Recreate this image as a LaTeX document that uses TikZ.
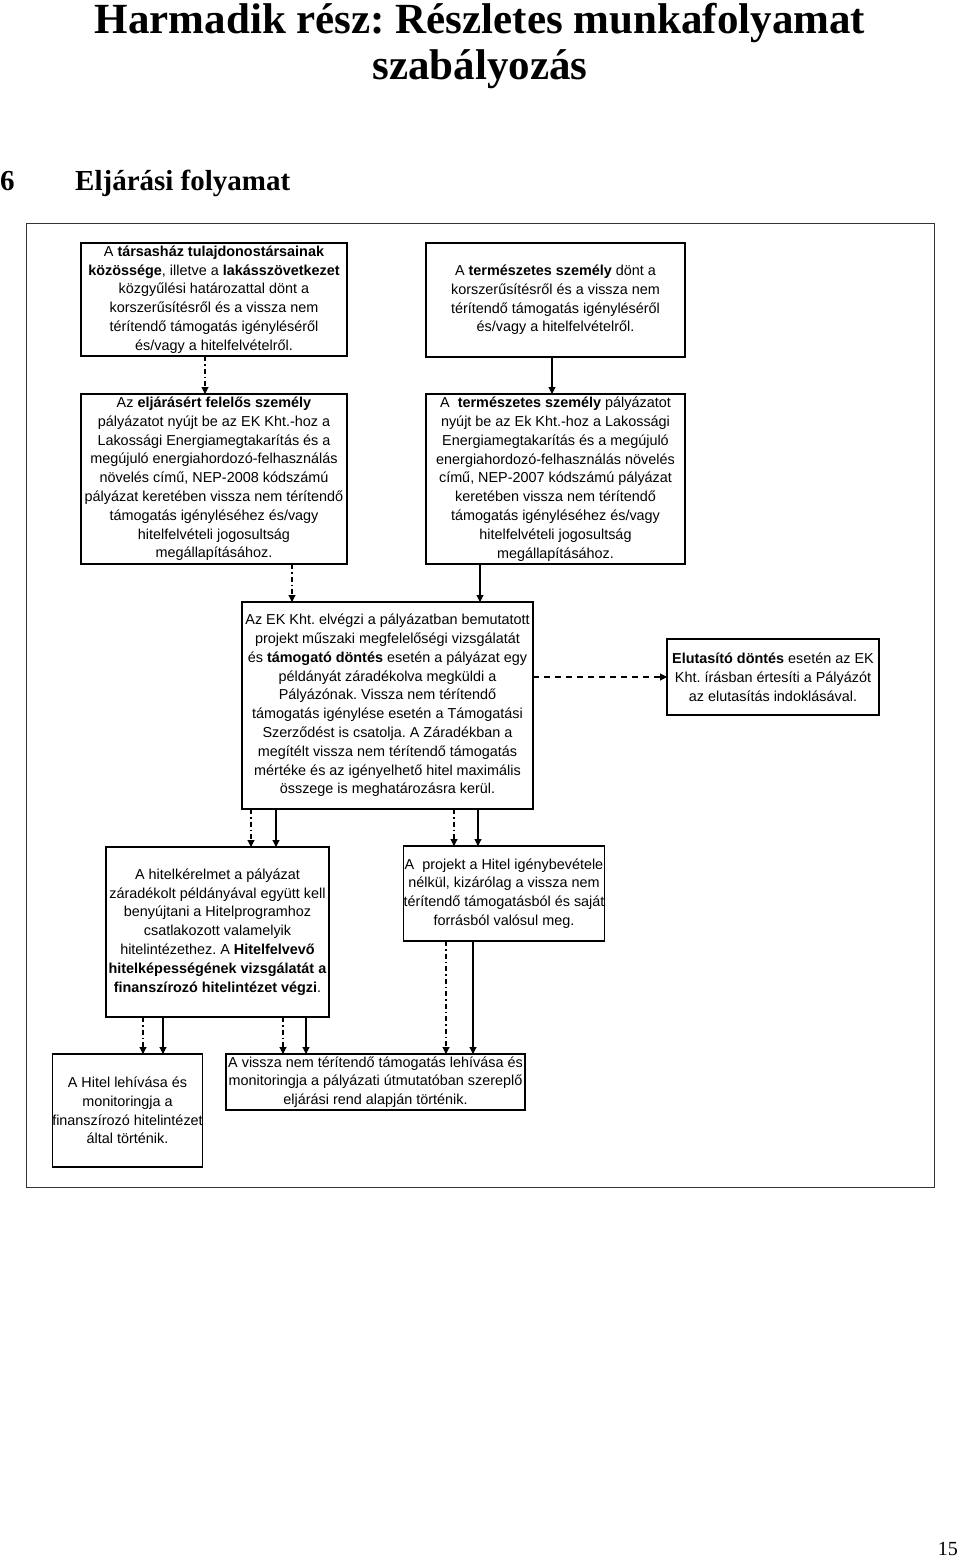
\documentclass[tikz,border=0pt]{standalone}
\usepackage{fontspec}
\usetikzlibrary{arrows.meta}
\newfontfamily\boxfont{Liberation Sans}
\newfontfamily\titlefont{Liberation Serif}
\frenchspacing
\begin{document}
\begin{tikzpicture}[x=1pt,y=-1pt,
  box/.style={draw, line width=1.2pt, inner sep=0pt, outer sep=0pt, align=center,
    font=\boxfont\fontsize{14.4}{18.8}\selectfont},
  conn/.style={line width=1.1pt, -{Triangle[width=7pt,length=7pt]}},
  solidc/.style={conn},
  dashdotc/.style={conn, dash pattern=on 5pt off 3pt on 1.5pt off 3pt},
  dashc/.style={conn, dash pattern=on 6pt off 5pt},
  ttl/.style={font=\titlefont\bfseries\fontsize{43}{46}\selectfont, anchor=base, inner sep=0pt},
  sect/.style={font=\titlefont\bfseries\fontsize{29}{32}\selectfont, anchor=base west, inner sep=0pt}
]
\useasboundingbox (0,0) rectangle (960,1557);
\fill[white] (0,0) rectangle (960,1557);

% headings
\node[ttl] (t1) at (480,34) {Harmadik rész: Részletes munkafolyamat};
\node[ttl] (t2) at (480,80) {szabályozás};
\node[sect] (s1) at (0,190) {6};
\node[sect] (s2) at (75,190) {Eljárási folyamat};
\node[font=\titlefont\fontsize{20}{22}\selectfont, anchor=base east, inner sep=0pt] (pg) at (958,1555) {15};

% outer frame
\draw[line width=1pt, black!80] (26,223) rectangle (934,1187);

% boxes
\node[box, minimum width=266pt, minimum height=113pt] (A) at (214,299.5)
 {A \textbf{társasház tulajdonostársainak}\\ \textbf{közössége}, illetve a \textbf{lakásszövetkezet}\\ közgyűlési határozattal dönt a\\ korszerűsítésről és a vissza nem\\ térítendő támogatás igényléséről\\ és/vagy a hitelfelvételről.};
\node[box, minimum width=259pt, minimum height=114pt] (B) at (555.5,300)
 {A \textbf{természetes személy} dönt a\\ korszerűsítésről és a vissza nem\\ térítendő támogatás igényléséről\\ és/vagy a hitelfelvételről.};
\node[box, minimum width=266pt, minimum height=170pt] (C) at (214,479)
 {Az \textbf{eljárásért felelős személy}\\ pályázatot nyújt be az EK Kht.-hoz a\\ Lakossági Energiamegtakarítás és a\\ megújuló energiahordozó-felhasználás\\ növelés című, NEP-2008 kódszámú\\ pályázat keretében vissza nem térítendő\\ támogatás igényléséhez és/vagy\\ hitelfelvételi jogosultság\\ megállapításához.};
\node[box, minimum width=259pt, minimum height=170pt] (D) at (555.5,479)
 {A\ \ \textbf{természetes személy} pályázatot\\ nyújt be az Ek Kht.-hoz a Lakossági\\ Energiamegtakarítás és a megújuló\\ energiahordozó-felhasználás növelés\\ című, NEP-2007 kódszámú pályázat\\ keretében vissza nem térítendő\\ támogatás igényléséhez és/vagy\\ hitelfelvételi jogosultság\\ megállapításához.};
\node[box, minimum width=291pt, minimum height=207pt] (E) at (387.5,705.5)
 {Az EK Kht. elvégzi a pályázatban bemutatott\\ projekt műszaki megfelelőségi vizsgálatát\\ és \textbf{támogató döntés} esetén a pályázat egy\\ példányát záradékolva megküldi a\\ Pályázónak. Vissza nem térítendő\\ támogatás igénylése esetén a Támogatási\\ Szerződést is csatolja. A Záradékban a\\ megítélt vissza nem térítendő támogatás\\ mértéke és az igényelhető hitel maximális\\ összege is meghatározásra kerül.};
\node[box, minimum width=212pt, minimum height=76pt] (F) at (773,677)
 {\textbf{Elutasító döntés} esetén az EK\\ Kht. írásban értesíti a Pályázót\\ az elutasítás indoklásával.};
\node[box, minimum width=223pt, minimum height=170pt] (G) at (217.5,932)
 {A hitelkérelmet a pályázat\\ záradékolt példányával együtt kell\\ benyújtani a Hitelprogramhoz\\ csatlakozott valamelyik\\ hitelintézethez. A \textbf{Hitelfelvevő}\\ \textbf{hitelképességének vizsgálatát a}\\ \textbf{finanszírozó hitelintézet végzi}.};
\node[box, minimum width=198pt, minimum height=95pt] (H) at (504,893.5)
 {A\ \ projekt a Hitel igénybevétele\\ nélkül, kizárólag a vissza nem\\ térítendő támogatásból és saját\\ forrásból valósul meg.};
\node[box, minimum width=149pt, minimum height=113pt] (I) at (127.5,1110.5)
 {A Hitel lehívása és\\ monitoringja a\\ finanszírozó hitelintézet\\ által történik.};
\node[box, minimum width=299pt, minimum height=56pt] (J) at (375.5,1082)
 {A vissza nem térítendő támogatás lehívása és\\ monitoringja a pályázati útmutatóban szereplő\\ eljárási rend alapján történik.};

% connectors
\draw[dashdotc] ([xshift=-9pt]A.south) -- ([xshift=-9pt]C.north);
\draw[solidc] ([xshift=-3.5pt]B.south) -- ([xshift=-3.5pt]D.north);
\draw[dashdotc] ([xshift=78pt]C.south) -- ([xshift=-95.5pt]E.north);
\draw[solidc] ([xshift=-75.5pt]D.south) -- ([xshift=92.5pt]E.north);
\draw[dashc] (E.east |- F.west) -- (F.west);
\draw[dashdotc] ([xshift=-136.5pt]E.south) -- ([xshift=33.5pt]G.north);
\draw[solidc] ([xshift=-111.5pt]E.south) -- ([xshift=58.5pt]G.north);
\draw[dashdotc] ([xshift=66.5pt]E.south) -- ([xshift=-50pt]H.north);
\draw[solidc] ([xshift=90.5pt]E.south) -- ([xshift=-26pt]H.north);
\draw[dashdotc] ([xshift=-74.5pt]G.south) -- ([xshift=15.5pt]I.north);
\draw[solidc] ([xshift=-54.5pt]G.south) -- ([xshift=35.5pt]I.north);
\draw[dashdotc] ([xshift=65.5pt]G.south) -- ([xshift=-92.5pt]J.north);
\draw[solidc] ([xshift=88.5pt]G.south) -- ([xshift=-69.5pt]J.north);
\draw[dashdotc] ([xshift=-58pt]H.south) -- ([xshift=70.5pt]J.north);
\draw[solidc] ([xshift=-31pt]H.south) -- ([xshift=97.5pt]J.north);
\end{tikzpicture}
\end{document}
